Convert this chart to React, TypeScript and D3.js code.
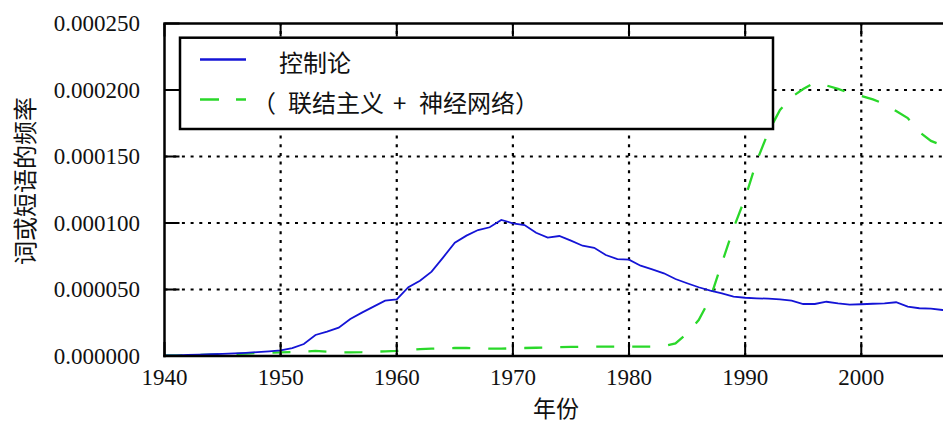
import React from "react";
import * as d3 from "d3";

// ---- data (values in occurrences per million; 1e-6) ----
const startYear = 1940;
const endYear = 2008;
const years = d3.range(startYear, endYear + 1);

const cyberneticsPerMillion = [
  0.5, 0.5, 0.8, 1.0, 1.3, 1.6, 2.0, 2.4, 2.9, 3.5,
  4.2, 6.0, 9.0, 15.8, 18.3, 21.3, 27.8, 32.6, 37.1, 41.6,
  42.6, 51.7, 56.6, 63.4, 74.2, 85.2, 90.5, 94.7, 96.8, 102.3,
  99.8, 98.5, 92.7, 89.0, 90.2, 86.7, 82.9, 81.4, 75.9, 72.9,
  72.4, 67.9, 65.2, 62.2, 57.9, 54.7, 51.7, 49.1, 47.1, 44.6,
  43.8, 43.4, 43.1, 42.6, 41.6, 39.1, 39.1, 40.8, 39.6, 38.6,
  38.9, 39.3, 39.6, 40.4, 37.1, 35.9, 35.6, 34.6, 34.3,
];

const connectionismPerMillion = [
  0.5, 0.5, 0.5, 0.8, 1.0, 1.2, 1.5, 1.8, 2.2, 2.5,
  2.8, 3.0, 3.3, 3.8, 3.3, 2.8, 2.8, 2.9, 3.2, 3.5,
  3.8, 4.5, 5.2, 5.5, 5.8, 6.0, 6.0, 5.8, 5.5, 5.5,
  5.8, 6.0, 6.2, 6.4, 6.6, 6.8, 7.0, 7.0, 7.0, 7.0,
  7.0, 7.0, 7.0, 7.5, 9.5, 17.0, 27.0, 43.6, 69.9, 96.2,
  118.8, 146.6, 168.4, 185.0, 194.7, 200.8, 205.5, 203.4, 200.8, 197.7,
  195.5, 192.9, 189.5, 184.2, 178.9, 168.4, 161.7, 158.3, 156.0,
];

const xTicks = [1940, 1950, 1960, 1970, 1980, 1990, 2000];
const yTicks = [0, 50, 100, 150, 200, 250];

const seriesNames = ["控制论", "（联结主义 + 神经网络）"];
const xTitle = "年份";
const yTitle = "词或短语的频率";

const BLUE = "#1414d6";
const GREEN = "#2ad82a";
const CJK = "'Noto Sans CJK SC', sans-serif";
const SERIF = "'Liberation Serif', serif";

export default function App() {
  const W = 943;
  const H = 423;
  const x0 = 164.5;
  const perYear = 11.613;
  const x = d3
    .scaleLinear()
    .domain([startYear, endYear])
    .range([x0, x0 + (endYear - startYear) * perYear]);
  const y = d3.scaleLinear().domain([0, 250]).range([356, 23.5]);

  const [left, right] = x.range();
  const [bottom, top] = y.range();

  const line = (vals: number[]) =>
    d3
      .line<number>()
      .x((_, i) => x(years[i]))
      .y((v) => y(v))(vals) || "";

  const fmt = (v: number) => (v * 1e-6).toFixed(6);

  return (
    <svg
      width={W}
      height={H}
      style={{ position: "absolute", left: 0, top: 0, background: "#ffffff" }}
    >
      <defs>
        <clipPath id="plot">
          <rect x={left} y={top} width={right - left} height={bottom - top} />
        </clipPath>
      </defs>
      <rect x={0} y={0} width={W} height={H} fill="#ffffff" />

      {/* grid */}
      <g stroke="#000" strokeWidth={2.2} strokeDasharray="3,5.7">
        {xTicks
          .filter((t) => t !== startYear)
          .map((t) => (
            <line key={"gx" + t} x1={x(t)} x2={x(t)} y1={bottom} y2={top} />
          ))}
        {yTicks
          .filter((t) => t !== 0 && t !== 250)
          .map((t) => (
            <line key={"gy" + t} x1={left} x2={right} y1={y(t)} y2={y(t)} />
          ))}
      </g>

      {/* data */}
      <g clipPath="url(#plot)" fill="none">
        <path
          d={line(connectionismPerMillion)}
          stroke={GREEN}
          strokeWidth={2.3}
          strokeDasharray="18,18"
        />
        <path d={line(cyberneticsPerMillion)} stroke={BLUE} strokeWidth={1.8} />
      </g>

      {/* ticks */}
      <g stroke="#000" strokeWidth={2}>
        {xTicks.map((t) => (
          <g key={"tx" + t}>
            <line x1={x(t)} x2={x(t)} y1={bottom} y2={bottom - 14} />
            <line x1={x(t)} x2={x(t)} y1={top} y2={top + 13} />
          </g>
        ))}
        {yTicks.map((t) => (
          <line key={"ty" + t} x1={left} x2={left + 15} y1={y(t)} y2={y(t)} />
        ))}
      </g>

      {/* frame */}
      <g stroke="#000" strokeWidth={2.5} fill="none">
        <line x1={left} x2={left} y1={top} y2={bottom + 1.2} />
        <line x1={left - 1.2} x2={W} y1={bottom} y2={bottom} />
        <line x1={left - 1.2} x2={W} y1={top} y2={top} />
      </g>

      {/* legend */}
      <rect
        x={180}
        y={37.7}
        width={593}
        height={91.3}
        fill="#ffffff"
        stroke="#000"
        strokeWidth={2.5}
      />
      <line x1={200} x2={246} y1={59.5} y2={59.5} stroke={BLUE} strokeWidth={2.6} />
      <line
        x1={200}
        x2={246}
        y1={99.5}
        y2={99.5}
        stroke={GREEN}
        strokeWidth={2.6}
        strokeDasharray="19,17"
      />
      <text
        x={279}
        y={61.5}
        fontFamily={CJK}
        fontSize={24}
        dominantBaseline="central"
        fill="#111"
      >
        {seriesNames[0]}
      </text>
      <text
        y={101}
        fontFamily={CJK}
        fontSize={24}
        dominantBaseline="central"
        fill="#111"
      >
        <tspan x={252}>{seriesNames[1].slice(0, 1)}</tspan>
        <tspan x={288}>{seriesNames[1].slice(1, 5)}</tspan>
        <tspan x={393}>{seriesNames[1].slice(6, 7)}</tspan>
        <tspan x={419}>{seriesNames[1].slice(8, 12)}</tspan>
        <tspan x={515}>{seriesNames[1].slice(12)}</tspan>
      </text>

      {/* tick labels */}
      <g fontFamily={SERIF} fontSize={23} fill="#111">
        {yTicks.map((t) => (
          <text
            key={"ly" + t}
            x={140}
            y={y(t)}
            textAnchor="end"
            dominantBaseline="central"
          >
            {fmt(t)}
          </text>
        ))}
        {xTicks.map((t) => (
          <text key={"lx" + t} x={x(t)} y={385} textAnchor="middle">
            {t}
          </text>
        ))}
      </g>

      {/* axis titles */}
      <text
        x={556}
        y={407}
        fontFamily={CJK}
        fontSize={23}
        textAnchor="middle"
        dominantBaseline="central"
        fill="#111"
      >
        {xTitle}
      </text>
      <text
        transform="translate(23,181) rotate(-90)"
        fontFamily={CJK}
        fontSize={24}
        textAnchor="middle"
        dominantBaseline="central"
        fill="#111"
      >
        {yTitle}
      </text>
    </svg>
  );
}
